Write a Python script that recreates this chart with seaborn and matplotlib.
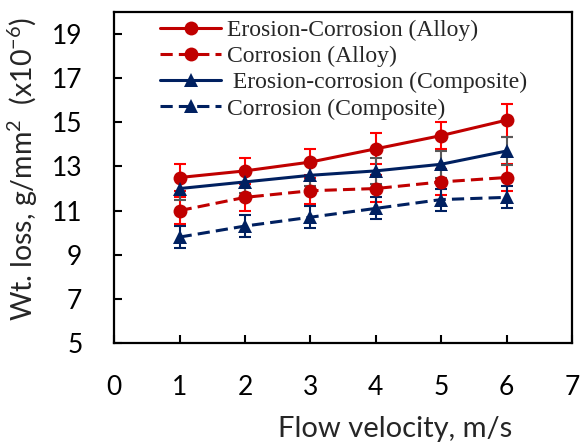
"""Wt. loss vs flow velocity, alloy vs composite."""
import numpy as np
import pandas as pd
import seaborn as sns
import matplotlib
matplotlib.use("Agg")
import matplotlib.pyplot as plt

velocity = [1, 2, 3, 4, 5, 6]
series = [
    "Erosion-Corrosion (Alloy)",
    "Corrosion (Alloy)",
    " Erosion-corrosion (Composite)",
    "Corrosion (Composite)",
]
ec_alloy = [12.5, 12.8, 13.2, 13.8, 14.4, 15.1]
c_alloy = [11.0, 11.6, 11.9, 12.0, 12.3, 12.5]
ec_comp = [12.0, 12.3, 12.6, 12.8, 13.1, 13.7]
c_comp = [9.8, 10.3, 10.7, 11.1, 11.5, 11.6]
err_ec_alloy = [0.6, 0.6, 0.6, 0.7, 0.6, 0.75]
err_c_alloy = [0.6, 0.6, 0.6, 0.6, 0.6, 0.6]
err_ec_comp = [0.5, 0.5, 0.5, 0.6, 0.6, 0.65]
err_c_comp = [0.5, 0.5, 0.5, 0.5, 0.5, 0.5]

values = [ec_alloy, c_alloy, ec_comp, c_comp]
errors = [err_ec_alloy, err_c_alloy, err_ec_comp, err_c_comp]

df = pd.concat(
    [
        pd.DataFrame({"v": velocity, "loss": v, "err": e, "series": s})
        for s, v, e in zip(series, values, errors)
    ],
    ignore_index=True,
)

red = "#C00000"
navy = "#002060"
palette = dict(zip(series, [red, red, navy, navy]))
dashes = dict(zip(series, ["", (4, 2), "", (4, 2)]))
markers = dict(zip(series, ["o", "o", "^", "^"]))
err_colors = ["#FF0000", "#FF0000", "#595959", navy]

sns.set_style("white")
plt.rcParams["font.family"] = ["Lato", "DejaVu Sans"]
plt.rcParams["mathtext.default"] = "regular"

fig = plt.figure(figsize=(5.8, 4.46), dpi=100)
ax = fig.add_axes([0.197, 0.231, 0.789, 0.742])

# error bars first, lines on top
for s, ec in zip(series, err_colors):
    d = df[df.series == s]
    ax.errorbar(d.v, d.loss, yerr=d.err, fmt="none", ecolor=ec,
                elinewidth=1.5, capsize=4.5, capthick=1.5, zorder=2)

sns.lineplot(data=df, x="v", y="loss", hue="series", style="series",
             palette=palette, dashes=dashes, markers=markers,
             markersize=10, linewidth=2.2, markeredgewidth=0, ax=ax, zorder=3)

ax.set_xlim(0, 7)
ax.set_ylim(5, 20)
ax.set_xticks(range(0, 8))
ax.set_yticks(range(5, 20, 2))
ax.tick_params(direction="in", length=6, width=1.5, labelsize=19, pad=23,
               bottom=True, left=True, colors="black")
for sp in ax.spines.values():
    sp.set_color("black")
    sp.set_linewidth(1.6)

ax.set_xlabel("Flow velocity, m/s", fontsize=21)
ax.xaxis.set_label_coords(0.614, -0.222)
ax.set_ylabel("Wt. loss, g/mm$^2$  (x10$^{-6}$)", fontsize=20.5)
ax.yaxis.set_label_coords(-0.163, 0.527)

leg = ax.legend(loc="upper left", bbox_to_anchor=(0.07, 1.021), frameon=False,
                prop={"family": "Liberation Serif", "size": 17},
                handlelength=2.55, handletextpad=0.25, labelspacing=0.2,
                borderaxespad=0.2)

fig.savefig("out.png", dpi=100)
